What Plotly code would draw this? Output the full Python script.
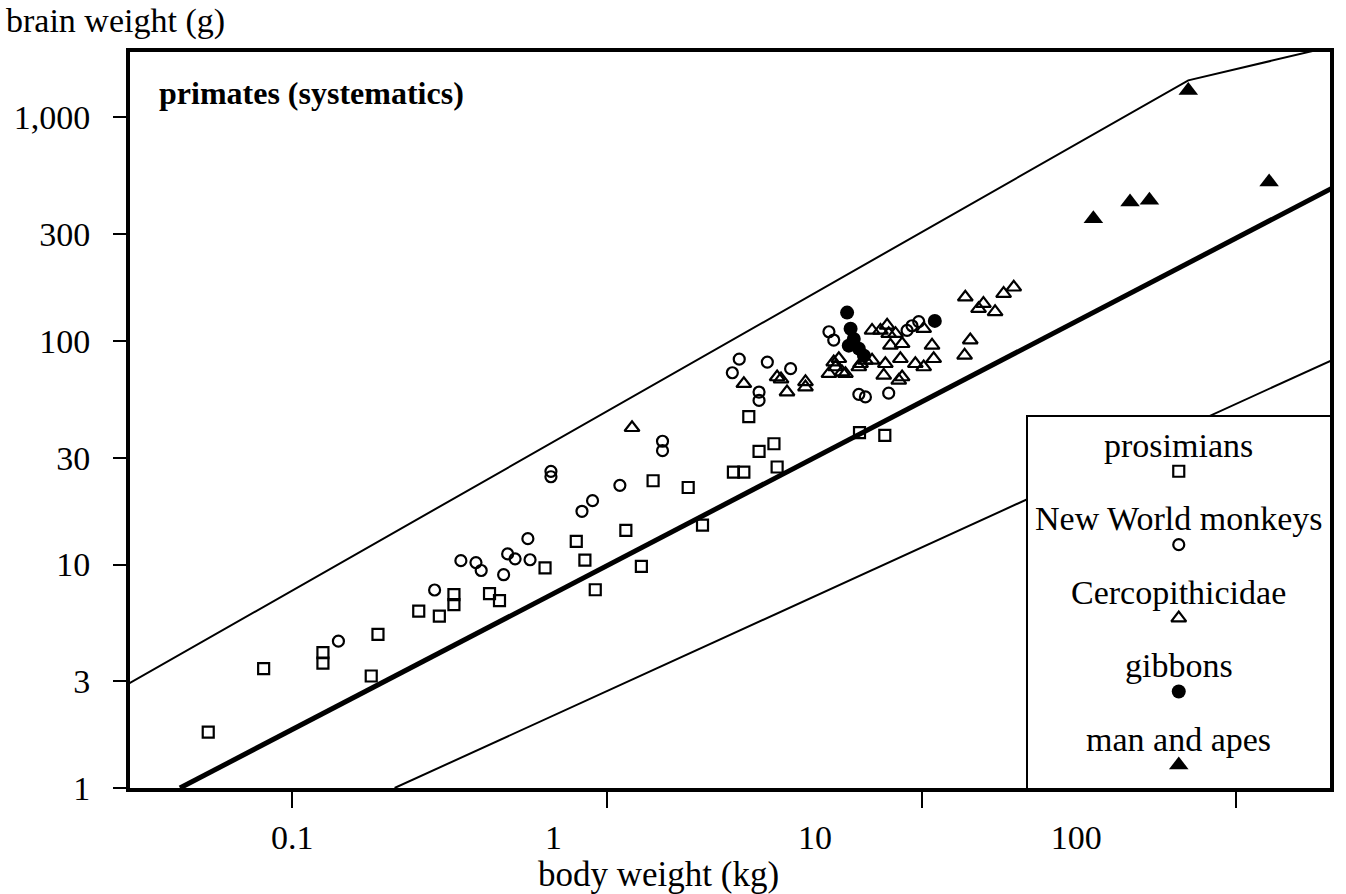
import plotly.graph_objects as go

FONT = "Liberation Serif"

# ---------------- data: body weight (kg), brain weight (g) ----------------
prosimian_body = [0.054, 0.081, 0.125, 0.125, 0.187, 0.178, 0.252, 0.293, 0.326, 0.326,
                  0.423, 0.455, 0.635, 0.798, 0.85, 0.917, 1.147, 1.285, 1.40, 1.81,
                  2.01, 2.52, 2.72, 3.04, 2.82, 3.39, 3.47, 6.34, 7.63]
prosimian_brain = [1.78, 3.42, 4.03, 3.62, 4.87, 3.17, 6.19, 5.87, 7.33, 6.61,
                   7.40, 6.89, 9.65, 12.7, 10.45, 7.71, 14.2, 9.81, 23.7, 22.1,
                   15.0, 25.9, 25.9, 32.1, 45.9, 34.7, 27.3, 38.9, 37.8]

nwm_body = [0.140, 0.283, 0.343, 0.383, 0.398, 0.469, 0.483, 0.510, 0.569, 0.560,
            0.663, 0.663, 0.832, 0.899, 1.098, 1.50, 1.50, 2.63, 2.50, 3.04,
            3.04, 3.23, 3.83, 5.07, 5.25, 6.31, 6.62, 7.85, 8.98, 9.31, 9.78]
nwm_brain = [4.54, 7.69, 10.4, 10.2, 9.40, 9.00, 11.15, 10.6, 10.5, 13.05,
             26.1, 24.7, 17.3, 19.3, 22.6, 35.6, 32.3, 82.9, 72.1, 59.1,
             54.2, 80.5, 75.2, 110, 101, 57.7, 56.2, 58.4, 111.5, 117, 122]

cerco_body = [1.20, 2.72, 3.47, 3.57, 3.73, 4.27, 4.27, 5.07, 5.25, 5.45,
              5.58, 6.39, 6.62, 6.95, 6.95, 7.39, 7.76, 7.85, 7.95, 7.66,
              7.57, 8.45, 8.55, 8.66, 8.25, 9.54, 10.14, 10.78, 10.91, 10.14,
              13.75, 15.15, 15.7, 17.1, 18.2, 19.6, 14.26, 13.68, 5.32,
              5.72, 6.31, 8.66]
cerco_brain = [40.9, 64.4, 69.0, 67.5, 59.1, 65.6, 62.2, 71.4, 80.5, 83.3,
               72.6, 79.1, 81.9, 81.9, 111.5, 111.5, 117.4, 107.8, 95.6, 79.1,
               70.2, 66.6, 83.3, 97.2, 107.8, 79.1, 76.5, 95.6, 83.3, 113.5,
               157, 139.5, 147, 135, 163, 174, 101, 86.2, 76.5,
               71.4, 76.5, 69.0]

gibbon_body = [5.79, 5.94, 6.08, 5.86, 6.31, 6.55, 11.0]
gibbon_brain = [134, 113.5, 102, 95.3, 92.4, 86.0, 123]

apes_body = [35.1, 45.9, 52.9, 127, 70.3]
apes_brain = [352, 419, 426, 515, 1322]

# reference lines (upper bound, main line, lower bound)
upper_body = [0.025, 70.3, 200]
upper_brain = [2.52, 1466, 2075]
main_body = [0.0439, 210]
main_brain = [1.0, 498]
lower_body = [0.2112, 210]
lower_brain = [1.0, 84.4]

# axis ticks
y_tickvals = [1, 3, 10, 30, 100, 300, 1000]
y_ticktext = ["1", "3", "10", "30", "100", "300", "1,000"]
x_tickvals = [0.1, 1, 10, 100]
x_ticktext = ["0.1", "1", "10", "100"]

legend_labels = ["prosimians", "New World monkeys", "Cercopithicidae", "gibbons", "man and apes"]

# ---------------- figure ----------------
W, H = 1346, 894
ML, MR, MT, MB = 130, 14, 52, 106
plot_w = W - ML - MR
plot_h = H - MT - MB

styles = [
    dict(symbol="square-open", size=11, line=dict(width=2.2, color="black"), color="black"),
    dict(symbol="circle-open", size=11, line=dict(width=2.2, color="black"), color="black"),
    dict(symbol="triangle-up-open", size=13, line=dict(width=2.2, color="black"), color="black"),
    dict(symbol="circle", size=14, color="black", line=dict(width=0)),
    dict(symbol="triangle-up", size=17, color="black", line=dict(width=0)),
]
series = [
    (prosimian_body, prosimian_brain),
    (nwm_body, nwm_brain),
    (cerco_body, cerco_brain),
    (gibbon_body, gibbon_brain),
    (apes_body, apes_brain),
]

fig = go.Figure()

for bx, by, w in [(upper_body, upper_brain, 2), (main_body, main_brain, 5), (lower_body, lower_brain, 2)]:
    fig.add_trace(go.Scatter(x=bx, y=by, mode="lines", line=dict(color="black", width=w),
                             showlegend=False, hoverinfo="skip"))

for (bx, by), st, name in zip(series, styles, legend_labels):
    fig.add_trace(go.Scatter(x=bx, y=by, mode="markers", marker=st, name=name, showlegend=False))

# invisible trace carrying the tick-label axis
fig.add_trace(go.Scatter(x=x_tickvals, y=[1] * len(x_tickvals), xaxis="x3", yaxis="y",
                         mode="markers", marker=dict(opacity=0), hoverinfo="skip", showlegend=False))

# ---- legend box (own small subplot) ----
legend_top_row = -0.7388          # row coordinate at the box top
legend_bottom_row = 4.313         # row coordinate at the box bottom
fig.add_trace(go.Scatter(x=[-0.2, 1.2, 1.2, -0.2, -0.2],
                         y=[legend_top_row - 1, legend_top_row - 1, legend_bottom_row + 1,
                            legend_bottom_row + 1, legend_top_row - 1],
                         xaxis="x2", yaxis="y2", mode="lines", fill="toself",
                         fillcolor="white", line=dict(width=0), hoverinfo="skip", showlegend=False))
for i, st in enumerate(styles):
    fig.add_trace(go.Scatter(x=[0.5], y=[i], xaxis="x2", yaxis="y2", mode="markers",
                             marker=st, hoverinfo="skip", showlegend=False))

annotations = []
for i, lab in enumerate(legend_labels):
    annotations.append(dict(x=0.5, y=i - 0.351, xref="x2", yref="y2", text=lab, showarrow=False,
                            xanchor="center", yanchor="middle",
                            font=dict(family=FONT, size=34, color="black")))

def px_x(p):
    return (p - ML) / plot_w

def px_y(p):
    return (H - MB - p) / plot_h

annotations.append(dict(x=px_x(4), y=px_y(21), xref="paper", yref="paper", text="brain weight (g)",
                        showarrow=False, xanchor="left", yanchor="middle",
                        font=dict(family=FONT, size=34, color="black")))
annotations.append(dict(x=px_x(157), y=px_y(93), xref="paper", yref="paper",
                        text="<b>primates (systematics)</b>", showarrow=False,
                        xanchor="left", yanchor="middle",
                        font=dict(family=FONT, size=32, color="black")))
annotations.append(dict(x=px_x(659), y=px_y(874), xref="paper", yref="paper",
                        text="body weight (kg)", showarrow=False,
                        xanchor="center", yanchor="middle",
                        font=dict(family=FONT, size=35, color="black")))

fig.update_layout(
    width=W, height=H,
    margin=dict(l=ML, r=MR, t=MT, b=MB, pad=0),
    paper_bgcolor="white", plot_bgcolor="white",
    showlegend=False,
    font=dict(family=FONT, size=34, color="black"),
    xaxis=dict(type="log", range=[-1.5162, 2.2973], showgrid=False, zeroline=False,
               showline=True, mirror=True, linewidth=4, linecolor="black",
               tickvals=x_tickvals, ticks="outside", ticklen=16, tickwidth=2, tickcolor="black",
               showticklabels=False),
    xaxis3=dict(type="log", range=[-1.6207, 2.9706], overlaying="x", anchor="y", side="bottom",
                showgrid=False, zeroline=False, showline=False,
                tickvals=x_tickvals, ticktext=x_ticktext, ticks="outside", ticklen=19,
                tickcolor="rgba(0,0,0,0)", tickfont=dict(family=FONT, size=34, color="black")),
    yaxis=dict(type="log", range=[0, 3.293], showgrid=False, zeroline=False,
               showline=True, mirror=True, linewidth=4, linecolor="black",
               tickvals=y_tickvals, ticktext=y_ticktext, ticks="outside", ticklen=13,
               tickwidth=1.5, tickcolor="black", ticklabelstandoff=16,
               tickfont=dict(family=FONT, size=34, color="black")),
    xaxis2=dict(domain=[px_x(1029), 1], range=[0, 1], anchor="y2", showgrid=False, zeroline=False,
                showline=True, mirror=True, linewidth=1.5, linecolor="black",
                showticklabels=False, ticks=""),
    yaxis2=dict(domain=[0, px_y(417)], range=[legend_bottom_row, legend_top_row], anchor="x2",
                showgrid=False, zeroline=False, showline=True, mirror=True, linewidth=1.5,
                linecolor="black", showticklabels=False, ticks=""),
    annotations=annotations,
)

fig.write_html("out.html")
